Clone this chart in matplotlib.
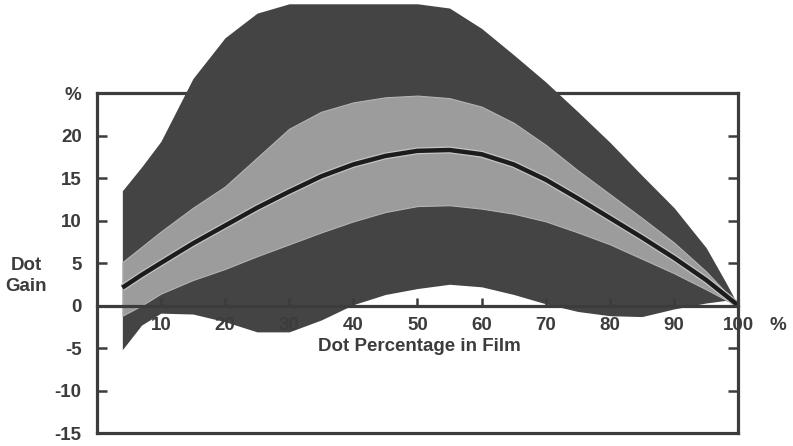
import matplotlib.pyplot as plt
import matplotlib.patheffects as pe
import matplotlib.transforms as mtransforms

plt.rcParams['font.family'] = ['Liberation Sans', 'DejaVu Sans']
plt.rcParams['font.weight'] = 'bold'

# dot percentage in film
dot_pct = [4, 7, 10, 15, 20, 25, 30, 35, 40, 45, 50, 55, 60, 65, 70, 75, 80, 85, 90, 95, 98, 100]

# outer envelope of measured dot gain
outer_high = [13.5, 16.3, 19.3, 26.7, 31.5, 34.4, 35.5, 35.5, 35.5, 35.5, 35.5, 35.0,
              32.6, 29.5, 26.3, 22.8, 19.2, 15.3, 11.5, 6.8, 2.8, 0.0]
outer_low = [-5.2, -2.3, -0.9, -1.0, -1.9, -3.1, -3.1, -1.7, 0.1, 1.3, 2.0, 2.5,
             2.2, 1.3, 0.2, -0.7, -1.2, -1.3, -0.4, 0.3, 0.6, 0.0]

# inner band
inner_high = [5.1, 6.9, 8.7, 11.5, 14.0, 17.4, 20.8, 22.8, 23.9, 24.5, 24.7, 24.4,
              23.4, 21.5, 18.9, 15.9, 13.1, 10.3, 7.4, 4.0, 1.6, 0.0]
inner_low = [-1.2, 0.0, 1.4, 3.0, 4.3, 5.8, 7.2, 8.6, 9.9, 11.0, 11.7, 11.8,
             11.4, 10.8, 9.9, 8.6, 7.2, 5.5, 3.8, 1.9, 0.7, 0.0]

# average dot gain
mean_gain = [2.1, 3.6, 5.0, 7.3, 9.4, 11.5, 13.4, 15.2, 16.6, 17.6, 18.2, 18.3,
             17.8, 16.6, 14.8, 12.6, 10.3, 8.0, 5.6, 3.0, 1.2, 0.0]

x_ticks = [10, 20, 30, 40, 50, 60, 70, 80, 90, 100]
y_ticks = [-15, -10, -5, 0, 5, 10, 15, 20, 25]
y_labels = ['-15', '-10', '-5', '0', '5', '10', '15', '20', '%']

ink = '#3c3c3c'
dark = '#444444'
light = '#9c9c9c'
fs = 13.5

fig = plt.figure(figsize=(7.93, 4.46), dpi=100)
ax = fig.add_axes([0.1219, 0.0291, 0.8091, 0.7623])
ax.set_xlim(0, 100)
ax.set_ylim(-15, 25)
ax.set_axisbelow(False)

# outer envelope runs off the top of the frame
ax.fill_between(dot_pct, outer_low, outer_high, color=dark, lw=0, zorder=2, clip_on=False)
ax.fill_between(dot_pct, inner_low, inner_high, color=light, edgecolor='#b4b4b4',
                lw=0.8, zorder=2.1)
ax.plot(dot_pct, mean_gain, color='#1c1c1c', lw=3.2, zorder=2.2, solid_capstyle='butt',
        path_effects=[pe.Stroke(linewidth=5.0, foreground='#c4c4c4'), pe.Normal()])

# frame: zero line carries the x ticks, box drawn around
for side in ['left', 'right', 'top', 'bottom']:
    ax.spines[side].set_color(ink)
    ax.spines[side].set_linewidth(2.3)
ax.spines['bottom'].set_position(('data', 0))
ax.spines['top'].set_zorder(1)
ax.axhline(-15, color=ink, lw=2.3, clip_on=False, zorder=2.5)

ax.set_xticks(x_ticks)
ax.set_xticklabels([str(v) for v in x_ticks])
ax.set_yticks(y_ticks)
ax.set_yticklabels(y_labels)
ax.tick_params(axis='x', direction='in', length=6, width=1.8, color=ink,
               labelsize=fs, labelcolor=ink, pad=8.5)
ax.tick_params(axis='y', direction='in', length=7, width=1.8, color=ink,
               labelsize=fs, labelcolor=ink, pad=10.8, right=True)

# unit sign after the last x label
pct_tr = mtransforms.offset_copy(ax.transData, fig=fig, y=-8.5, units='points')
ax.text(106.2, 0, '%', transform=pct_tr, ha='center', va='top', fontsize=fs,
        color=ink, clip_on=False)

ax.text(50.3, -4.8, 'Dot Percentage in Film', ha='center', va='center', fontsize=fs,
        color=ink)
fig.text(26 / 793, 1 - 276 / 446, 'Dot\nGain', ha='center', va='center', fontsize=fs,
         color=ink, linespacing=1.25)

fig.savefig('out.png', dpi=100)
